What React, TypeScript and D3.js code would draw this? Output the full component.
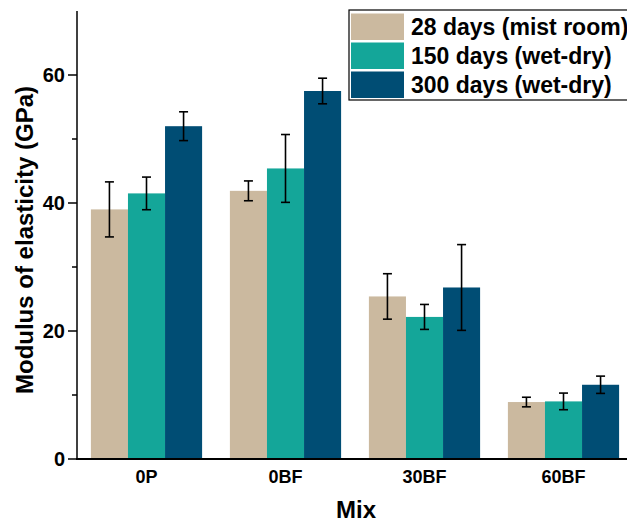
import React from "react";
import * as d3 from "d3";

const categories = ["0P", "0BF", "30BF", "60BF"];
const seriesNames = ["28 days (mist room)", "150 days (wet-dry)", "300 days (wet-dry)"];
const seriesColors = ["#cbb99f", "#14a699", "#004d74"];
const values28 = [39.0, 41.9, 25.4, 8.9];
const values150 = [41.5, 45.4, 22.2, 9.0];
const values300 = [52.0, 57.5, 26.8, 11.6];
const err28 = [4.3, 1.55, 3.55, 0.75];
const err150 = [2.55, 5.3, 1.95, 1.3];
const err300 = [2.25, 2.0, 6.7, 1.35];
const yMajorTicks = [0, 20, 40, 60];
const yMinorTicks = [10, 30, 50];

const W = 627;
const H = 523;
const left = 77;
const right = 633;
const top = 11;
const bottom = 459;
const font = "'Liberation Sans', Arial, sans-serif";

export default function App() {
  const x = d3.scaleBand<string>().domain(categories).range([left, right]).paddingInner(0.2).paddingOuter(0.1);
  const xs = d3.scaleBand<number>().domain([0, 1, 2]).range([0, x.bandwidth()]);
  const y = d3.scaleLinear().domain([0, 70]).range([bottom, top]);
  const vals = [values28, values150, values300];
  const errs = [err28, err150, err300];

  return (
    <svg width={W} height={H} style={{ position: "absolute", left: 0, top: 0, background: "#fff" }} fontFamily={font}>
      {vals.map((arr, si) =>
        arr.map((v, ci) => {
          const bx = (x(categories[ci]) as number) + (xs(si) as number);
          return (
            <rect key={`b${si}-${ci}`} x={bx} y={y(v)} width={xs.bandwidth()} height={bottom - y(v)} fill={seriesColors[si]} />
          );
        })
      )}
      {vals.map((arr, si) =>
        arr.map((v, ci) => {
          const cx = (x(categories[ci]) as number) + (xs(si) as number) + xs.bandwidth() / 2;
          const e = errs[si][ci];
          const y1 = y(v + e);
          const y2 = y(v - e);
          return (
            <g key={`e${si}-${ci}`} stroke="#000" strokeWidth={1.6}>
              <line x1={cx} x2={cx} y1={y1} y2={y2} />
              <line x1={cx - 4.5} x2={cx + 4.5} y1={y1} y2={y1} />
              <line x1={cx - 4.5} x2={cx + 4.5} y1={y2} y2={y2} />
            </g>
          );
        })
      )}
      {/* axes */}
      <line x1={left} x2={left} y1={top} y2={bottom} stroke="#000" strokeWidth={1.5} />
      <line x1={left - 1} x2={right} y1={bottom} y2={bottom} stroke="#000" strokeWidth={2} />
      {yMajorTicks.map((t) => (
        <g key={`t${t}`}>
          <line x1={left - 9} x2={left} y1={y(t)} y2={y(t)} stroke="#000" strokeWidth={1.5} />
          <text x={left - 12} y={y(t)} dy="0.36em" textAnchor="end" fontSize={20} fontWeight="bold">
            {t}
          </text>
        </g>
      ))}
      {yMinorTicks.map((t) => (
        <line key={`m${t}`} x1={left - 5} x2={left} y1={y(t)} y2={y(t)} stroke="#000" strokeWidth={1.5} />
      ))}
      {categories.map((c) => (
        <text key={c} x={(x(c) as number) + x.bandwidth() / 2} y={483} textAnchor="middle" fontSize={18} fontWeight="bold">
          {c}
        </text>
      ))}
      <text x={356} y={518} textAnchor="middle" fontSize={24} fontWeight="bold">
        Mix
      </text>
      <text transform={`translate(33, 240) rotate(-90)`} textAnchor="middle" fontSize={24} fontWeight="bold">
        Modulus of elasticity (GPa)
      </text>
      {/* legend */}
      <rect x={349} y={10} width={300} height={90} fill="#fff" stroke="#000" strokeWidth={1.2} />
      {seriesNames.map((n, i) => (
        <g key={n}>
          <rect x={351} y={13.5 + i * 29} width={53} height={26.5} fill={seriesColors[i]} />
          <text x={411} y={35 + i * 29} fontSize={23} fontWeight="bold">
            {n}
          </text>
        </g>
      ))}
    </svg>
  );
}
